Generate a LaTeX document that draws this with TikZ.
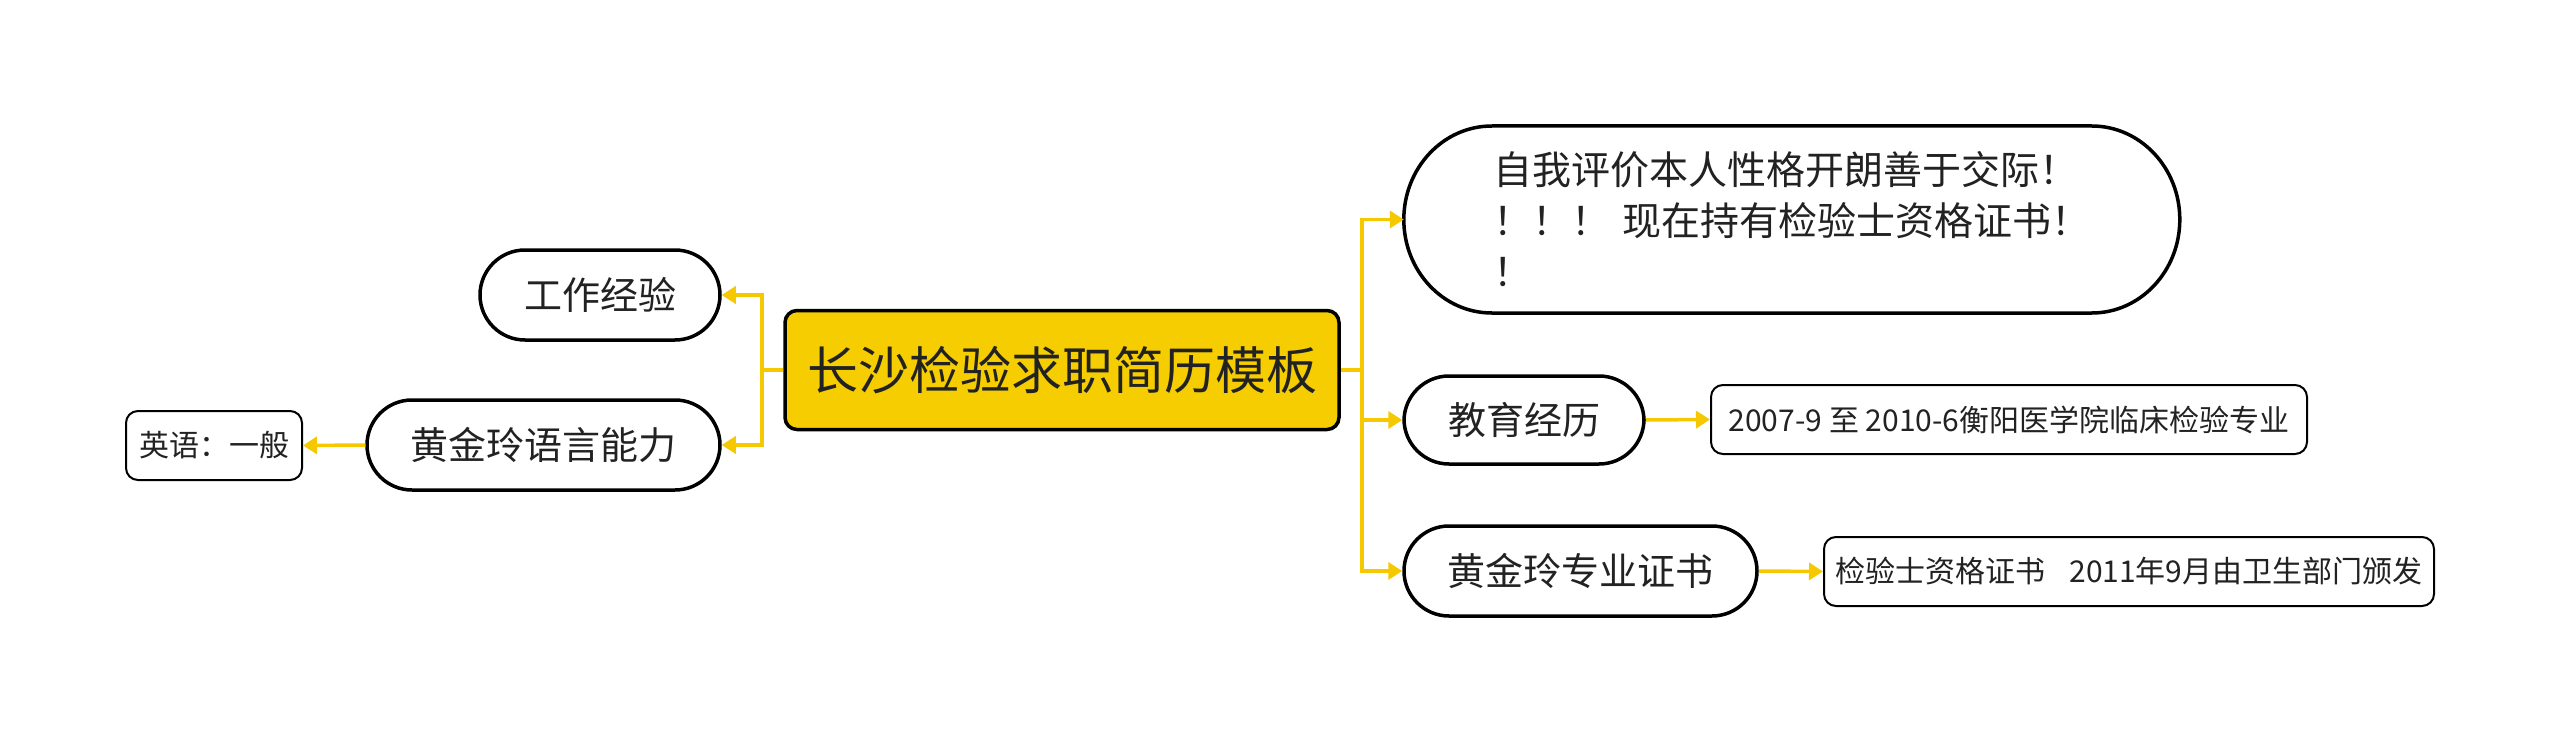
\documentclass[tikz,border=0pt]{standalone}
\usepackage{fontspec}
\setmainfont{Noto Sans CJK SC}
\usetikzlibrary{arrows.meta,calc}
\definecolor{myyellow}{HTML}{F5C800}
\definecolor{cfill}{HTML}{F5CD00}
\definecolor{txt}{HTML}{222222}
\begin{document}
\begin{tikzpicture}[x=1pt,y=-1pt,
  pill/.style={draw=black, line width=3.5pt, rounded corners=45pt, fill=white, inner sep=0pt,
    font=\fontsize{38}{46}\selectfont, text=txt},
  leaf/.style={draw=black, line width=2pt, rounded corners=12pt, fill=white, inner sep=0pt,
    font=\fontsize{30}{36}\selectfont, text=txt, minimum height=69pt},
  centerbox/.style={draw=black, line width=3.5pt, rounded corners=12pt, fill=cfill, inner sep=0pt,
    font=\fontsize{51}{60}\selectfont, text=txt, minimum width=554pt, minimum height=119pt},
  conn/.style={draw=myyellow, line width=3.5pt, -{Triangle[length=14pt,width=17pt]}}
]
\useasboundingbox (0,0) rectangle (2560,741);
\fill[white] (0,0) rectangle (2560,741);

% nodes
\node[centerbox] (c) at (1062,370) {长沙检验求职简历模板};

\node[pill, minimum width=240pt, minimum height=90pt] (work) at (600,295) {工作经验};
\node[pill, minimum width=353pt, minimum height=90pt] (lang) at (543.5,445) {黄金玲语言能力};
\node[leaf, minimum width=176pt] (en) at (214,445.5) {英语：一般};

\node[font=\fontsize{39}{51}\selectfont, text=txt, align=left, inner sep=0pt,
      minimum width=776pt, minimum height=187pt] (ev) at (1792,219.5)
  {自我评价本人性格开朗善于交际！\\！！！\hspace{0.3em}现在持有检验士资格证书！\\！};
\draw[line width=3.5pt, line join=round]
  (ev.west) arc[start angle=180,end angle=90,x radius=88pt,y radius=93.5pt]
  -- ++(600,0)
  arc[start angle=90,end angle=-90,x radius=88pt,y radius=93.5pt]
  -- ++(-600,0)
  arc[start angle=270,end angle=180,x radius=88pt,y radius=93.5pt] -- cycle;

\node[pill, minimum width=240pt, minimum height=88pt] (edu) at (1524,420) {教育经历};
\node[leaf, minimum width=596pt] (edu2) at (2009,419.5) {2007-9 至 2010-6衡阳医学院临床检验专业};

\node[pill, minimum width=353pt, minimum height=90pt] (cert) at (1580.5,571) {黄金玲专业证书};
\node[leaf, minimum width=610pt] (cert2) at (2129,571.5) {检验士资格证书\hspace{0.8em}2011年9月由卫生部门颁发};

% connectors
\coordinate (tl) at (762,370);
\coordinate (tr) at (1362,370);
\draw[conn] (c.west) -- (tl) |- (work.east);
\draw[conn] (c.west) -- (tl) |- (lang.east);
\draw[conn] (c.east) -- (tr) |- (ev.west);
\draw[conn] (c.east) -- (tr) |- (edu.west);
\draw[conn] (c.east) -- (tr) |- (cert.west);
\draw[conn] (lang.west) -- (en.east);
\draw[conn] (edu.east) -- (edu2.west);
\draw[conn] (cert.east) -- (cert2.west);
\end{tikzpicture}
\end{document}
